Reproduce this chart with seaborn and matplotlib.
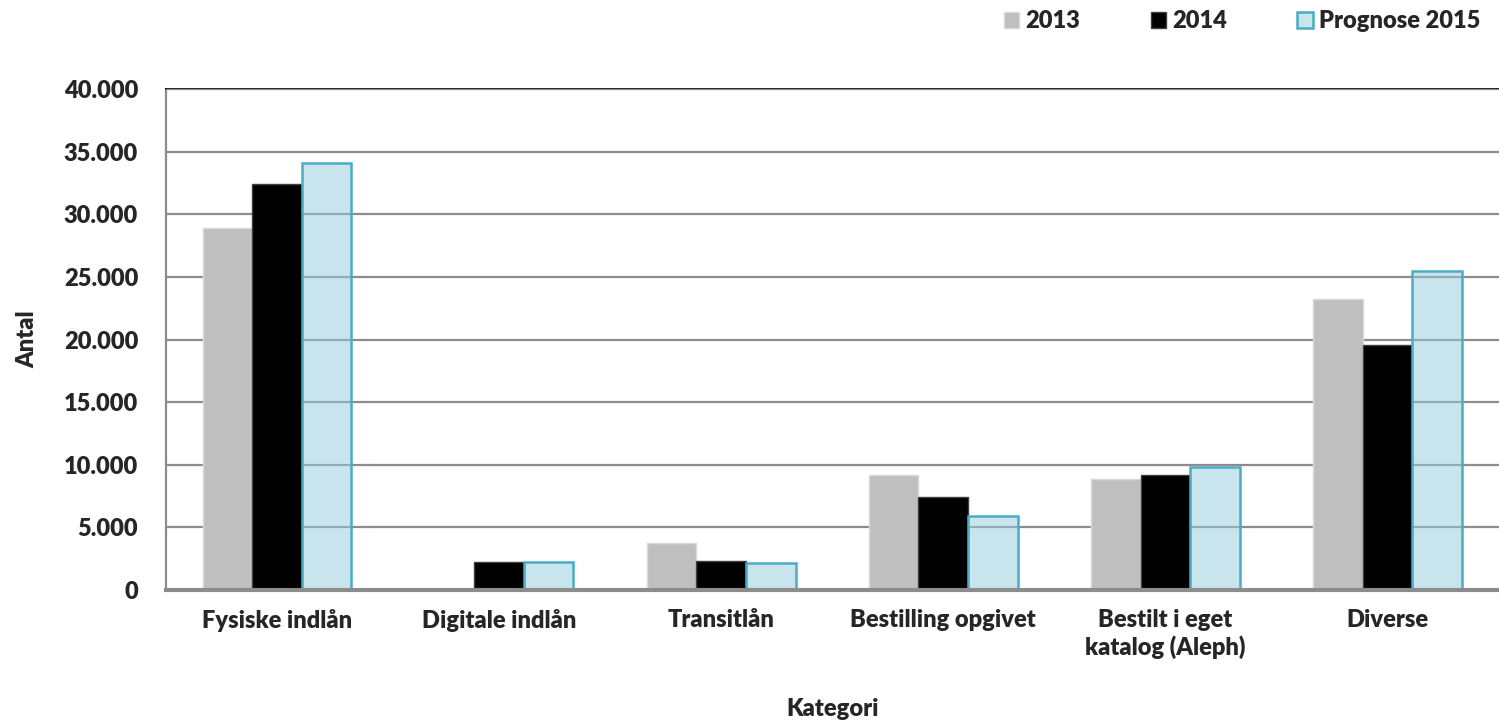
import matplotlib
matplotlib.use("Agg")
import matplotlib.pyplot as plt
import matplotlib.ticker as mticker
import pandas as pd
import seaborn as sns

categories = ["Fysiske indlån", "Digitale indlån", "Transitlån",
              "Bestilling opgivet", "Bestilt i eget\nkatalog (Aleph)", "Diverse"]
series = ["2013", "2014", "Prognose 2015"]
v2013 = [28900, 0, 3730, 9160, 8840, 23200]
v2014 = [32400, 2240, 2340, 7400, 9160, 19600]
v2015 = [34100, 2260, 2180, 5930, 9850, 25500]
yticks = [0, 5000, 10000, 15000, 20000, 25000, 30000, 35000, 40000]

rows = []
for s, vals in zip(series, [v2013, v2014, v2015]):
    for c, v in zip(categories, vals):
        rows.append({"Kategori": c, "Serie": s, "Antal": v})
df = pd.DataFrame(rows)

sns.set_style("white")
plt.rcParams["font.family"] = ["Lato", "DejaVu Sans"]
W = "heavy"
plt.rcParams["font.weight"] = W

fig = plt.figure(figsize=(14.99, 7.25), dpi=100)
ax = fig.add_axes([0.1107, 0.1862, 0.889, 0.6910])

palette = {"2013": "#BFBFBF", "2014": "#000000", "Prognose 2015": "#93CDDD"}
sns.barplot(data=df, x="Kategori", y="Antal", hue="Serie", palette=palette,
            width=0.67, gap=0, saturation=1, ax=ax, zorder=3)

# colours per series
styles = [
    dict(fc="#BFBFBF", ec="#D9D9D9", lw=1.0),
    dict(fc="#000000", ec="#404040", lw=1.0),
    dict(fc=(0.576, 0.804, 0.867, 0.5), ec="#4BACC6", lw=1.8),
]
for cont, st in zip(ax.containers, styles):
    for bar in cont:
        bar.set_facecolor(st["fc"])
        bar.set_edgecolor(st["ec"])
        bar.set_linewidth(st["lw"])
        bar.set_zorder(3)
# gridlines show through light blue bars
for bar in ax.containers[2]:
    bar.set_zorder(5)

ax.set_ylim(0, 40000)
ax.set_xlim(-0.5, len(categories) - 0.5)
ax.set_yticks(yticks)
ax.yaxis.set_major_formatter(mticker.FuncFormatter(lambda v, p: f"{int(v):,}".replace(",", ".")))
ax.yaxis.grid(True, color="#8C8C8C", lw=1.6, zorder=4)
ax.set_axisbelow(False)
for line in ax.get_ygridlines():
    line.set_zorder(4)

ax.tick_params(axis="y", length=0, labelsize=17, pad=20)
ax.tick_params(axis="x", which="major", length=0, labelsize=17, pad=14)
ax.set_xticks([i - 0.5 for i in range(len(categories) + 1)], minor=True)
ax.tick_params(axis="x", which="minor", length=9, width=1.5, color="#8C8C8C")
for lab in ax.get_xticklabels() + ax.get_yticklabels():
    lab.set_fontweight(W)

ax.spines["right"].set_visible(False)
ax.spines["top"].set_color("#000000")
ax.spines["top"].set_linewidth(1.2)
ax.spines["left"].set_color("#8C8C8C")
ax.spines["left"].set_linewidth(1.6)
ax.spines["bottom"].set_color("#8C8C8C")
ax.spines["bottom"].set_linewidth(3)
ax.spines["bottom"].set_zorder(6)

ax.set_xlabel("Kategori", fontsize=17, fontweight=W, labelpad=28)
ax.set_ylabel("Antal", fontsize=17, fontweight=W, labelpad=18)

handles = [cont[0] for cont in ax.containers]
ax.legend_.remove()
leg = fig.legend(handles, series, loc="upper right", bbox_to_anchor=(1.0, 1.012), ncol=3,
                 frameon=False, fontsize=17, handlelength=0.65, handleheight=0.65,
                 handletextpad=0.25, columnspacing=3.0, borderaxespad=0.4)
for t in leg.get_texts():
    t.set_fontweight(W)

fig.savefig("out.png", dpi=100)
